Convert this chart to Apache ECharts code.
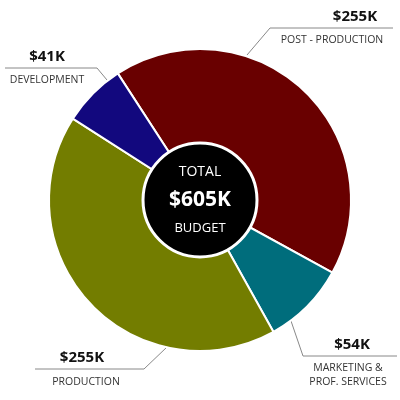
<!DOCTYPE html>
<html><head><meta charset="utf-8">
<script src="https://cdn.jsdelivr.net/npm/echarts@6/dist/echarts.min.js"></script>
<style>html,body{margin:0;padding:0;background:#fff}#c{width:400px;height:400px}</style>
</head><body><div id="c"></div>
<script>
const categories = ['POST - PRODUCTION', 'MARKETING &\nPROF. SERVICES', 'PRODUCTION', 'DEVELOPMENT'];
const values = [255, 54, 255, 41];
const colors = ['#690000', '#006d7c', '#737d00', '#12087e'];
const total = values.reduce((a, b) => a + b, 0);
const fmt = v => '$' + v + 'K';
const ff = '"Open Sans", "Liberation Sans", sans-serif';

const chart = echarts.init(document.getElementById('c'));
const lineStyle = {stroke: '#888', lineWidth: 1};
function valText(x, y, v) {
  return {type: 'text', x: x, y: y, style: {text: fmt(v), fill: '#111', font: 'bold 15px ' + ff, textAlign: 'center', textVerticalAlign: 'middle'}};
}
function catText(x, y, t) {
  return {type: 'text', x: x, y: y, style: {text: t, fill: '#333', font: '10.5px ' + ff, textAlign: 'center', textVerticalAlign: 'top', lineHeight: 14}};
}
chart.setOption({
  animation: false,
  series: [{
    type: 'pie', center: [200, 200], radius: [0, 151], startAngle: 123, clockwise: true,
    label: {show: false}, labelLine: {show: false},
    itemStyle: {borderColor: '#fff', borderWidth: 2},
    data: categories.map((c, i) => ({name: c, value: values[i], itemStyle: {color: colors[i]}}))
  }],
  graphic: [
    {type: 'circle', shape: {cx: 200, cy: 200, r: 57}, style: {fill: '#000', stroke: '#fff', lineWidth: 3}, z: 10},
    {type: 'text', x: 200, y: 172, z: 11, style: {text: 'TOTAL', fill: '#fff', font: '14px ' + ff, textAlign: 'center', textVerticalAlign: 'middle'}},
    {type: 'text', x: 200, y: 200, z: 11, style: {text: fmt(total), fill: '#fff', font: 'bold 21px ' + ff, textAlign: 'center', textVerticalAlign: 'middle'}},
    {type: 'text', x: 200, y: 228, z: 11, style: {text: 'BUDGET', fill: '#fff', font: '13px ' + ff, textAlign: 'center', textVerticalAlign: 'middle'}},
    {type: 'polyline', shape: {points: [[393, 28], [270, 28], [247, 55]]}, style: lineStyle},
    valText(355, 17, values[0]), catText(332, 33, categories[0]),
    {type: 'polyline', shape: {points: [[290, 318], [303, 356], [397, 356]]}, style: lineStyle},
    valText(352, 345, values[1]), catText(348, 361, categories[1]),
    {type: 'polyline', shape: {points: [[35, 369], [144, 369], [167, 347]]}, style: lineStyle},
    valText(82, 358, values[2]), catText(86, 375, categories[2]),
    {type: 'polyline', shape: {points: [[5, 68], [97, 68], [107, 80]]}, style: lineStyle},
    valText(47, 57, values[3]), catText(47, 73, categories[3])
  ]
});
</script></body></html>
